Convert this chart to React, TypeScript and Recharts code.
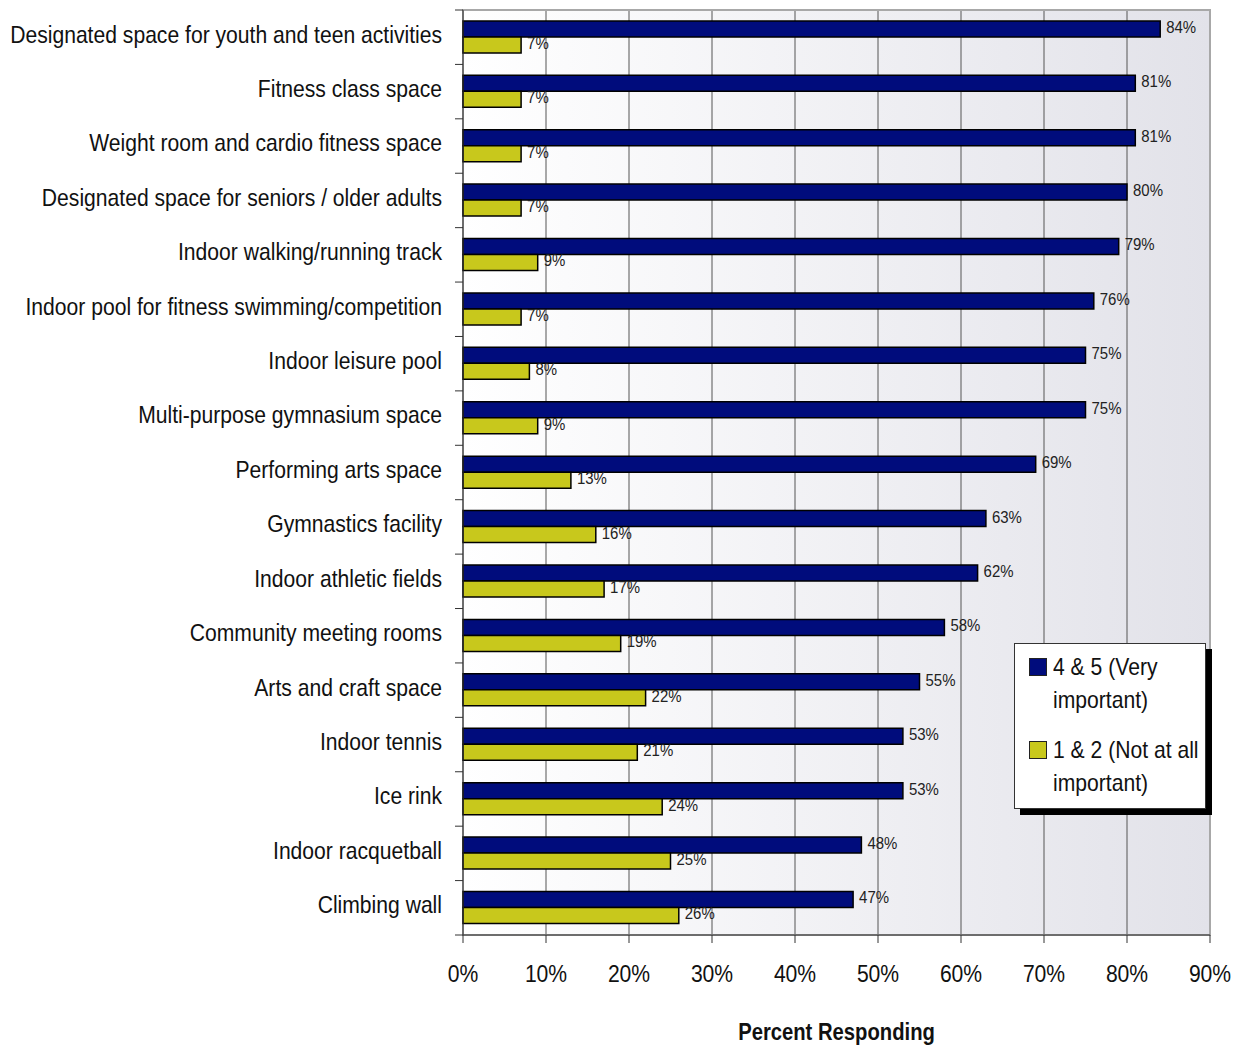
import { BarChart, Bar, XAxis, YAxis, CartesianGrid, LabelList, ReferenceArea } from "recharts";

const categories = [
  "Designated space for youth and teen activities",
  "Fitness class space",
  "Weight room and cardio fitness space",
  "Designated space for seniors / older adults",
  "Indoor walking/running track",
  "Indoor pool for fitness swimming/competition",
  "Indoor leisure pool",
  "Multi-purpose gymnasium space",
  "Performing arts space",
  "Gymnastics facility",
  "Indoor athletic fields",
  "Community meeting rooms",
  "Arts and craft space",
  "Indoor tennis",
  "Ice rink",
  "Indoor racquetball",
  "Climbing wall",
];
const veryImportant = [84, 81, 81, 80, 79, 76, 75, 75, 69, 63, 62, 58, 55, 53, 53, 48, 47];
const notImportant = [7, 7, 7, 7, 9, 7, 8, 9, 13, 16, 17, 19, 22, 21, 24, 25, 26];
const xTicks = [0, 10, 20, 30, 40, 50, 60, 70, 80, 90];

const data = categories.map((name, i) => ({
  name,
  high: veryImportant[i],
  low: notImportant[i],
}));

const FONT = "'Liberation Sans', Arial, sans-serif";
const SQ = 0.88; // squeeze to look like a narrow face
const BLUE = "#000c7c";
const YELLOW = "#c8c81c";

const CHART_W = 1233;
const CHART_H = 1039;
const TOP = 2;
const BOTTOM_AXIS = 112;
const BAND = (CHART_H - TOP - BOTTOM_AXIS) / categories.length;

function CategoryTick(props: any) {
  const { x, y, payload, index } = props;
  return (
    <g>
      <line x1={x} x2={x + 8} y1={y - BAND / 2} y2={y - BAND / 2} stroke="#333" />
      {index === categories.length - 1 && (
        <line x1={x} x2={x + 8} y1={y + BAND / 2} y2={y + BAND / 2} stroke="#333" />
      )}
      <text
        transform={`translate(${x - 13},${y - 3}) scale(${SQ},1)`}
        dy="0.35em"
        textAnchor="end"
        fontSize={24}
        fill="#111"
        fontFamily={FONT}
      >
        {payload.value}
      </text>
    </g>
  );
}

function PercentTick(props: any) {
  const { x, y, payload } = props;
  return (
    <text
      transform={`translate(${x},${y}) scale(${SQ},1)`}
      dy="0.71em"
      textAnchor="middle"
      fontSize={24}
      fill="#111"
      fontFamily={FONT}
    >
      {`${payload.value}%`}
    </text>
  );
}

function AxisTitle(props: any) {
  const { viewBox } = props;
  const cx = viewBox.x + viewBox.width / 2;
  return (
    <text
      transform={`translate(${cx},${viewBox.y + 97}) scale(${SQ},1)`}
      dy="0.35em"
      textAnchor="middle"
      fontSize={23}
      fontWeight="bold"
      fill="#111"
      fontFamily={FONT}
    >
      Percent Responding
    </text>
  );
}

function ValueLabel(props: any) {
  const { x, y, width, height, value } = props;
  return (
    <text
      transform={`translate(${x + width + 6},${y + height / 2 - 2}) scale(${SQ},1)`}
      dy="0.35em"
      fontSize={17}
      fill="#222"
      fontFamily={FONT}
    >
      {`${value}%`}
    </text>
  );
}

function LegendBox() {
  const item = (color: string, l1: string, l2: string) => (
    <div style={{ display: "flex", alignItems: "flex-start", marginBottom: 17 }}>
      <div style={{ width: 16, height: 16, background: color, border: "1px solid #222", marginTop: 8, marginRight: 6, flex: "none" }} />
      <div style={{ lineHeight: "33px", whiteSpace: "nowrap", transform: `scaleX(${SQ})`, transformOrigin: "left" }}>
        {l1}
        <br />
        {l2}
      </div>
    </div>
  );
  return (
    <div
      style={{
        position: "absolute",
        left: 1006,
        top: 635,
        width: 176,
        height: 158,
        padding: "6px 0 0 14px",
        background: "#fff",
        border: "1px solid #333",
        boxShadow: "6px 6px 0 #000",
        fontFamily: FONT,
        fontSize: 24,
        color: "#111",
      }}
    >
      {item(BLUE, "4 & 5 (Very", "important)")}
      {item(YELLOW, "1 & 2 (Not at all", "important)")}
    </div>
  );
}

export default function App() {
  return (
    <div style={{ width: CHART_W, height: CHART_H, position: "relative" }}>
      <BarChart
        width={CHART_W}
        height={CHART_H}
        data={data}
        layout="vertical"
        margin={{ top: TOP, right: 31, bottom: 0, left: 0 }}
        barCategoryGap="20%"
        barGap={0}
      >
        <defs>
          <linearGradient id="bg" x1="0" y1="0" x2="1" y2="0">
            <stop offset="0%" stopColor="#ffffff" />
            <stop offset="100%" stopColor="#e2e2e9" />
          </linearGradient>
        </defs>
        <CartesianGrid horizontal={false} stroke="#555" fill="url(#bg)" fillOpacity={1} />
        <ReferenceArea x1={0} x2={90} fill="none" stroke="#a8a8a8" strokeWidth={2} ifOverflow="extendDomain" />
        <XAxis
          type="number"
          domain={[0, 90]}
          ticks={xTicks}
          height={BOTTOM_AXIS}
          tickSize={8}
          tickMargin={22}
          stroke="#333"
          tick={<PercentTick />}
          label={<AxisTitle />}
        />
        <YAxis
          type="category"
          dataKey="name"
          width={455}
          tickLine={false}
          tickSize={6}
          tickMargin={2}
          stroke="#333"
          interval={0}
          tick={<CategoryTick />}
        />
        <Bar dataKey="high" fill={BLUE} stroke="#000" strokeWidth={1.5} isAnimationActive={false}>
          <LabelList dataKey="high" content={<ValueLabel />} />
        </Bar>
        <Bar dataKey="low" fill={YELLOW} stroke="#000" strokeWidth={1.5} isAnimationActive={false}>
          <LabelList dataKey="low" content={<ValueLabel />} />
        </Bar>
      </BarChart>
      <LegendBox />
    </div>
  );
}
